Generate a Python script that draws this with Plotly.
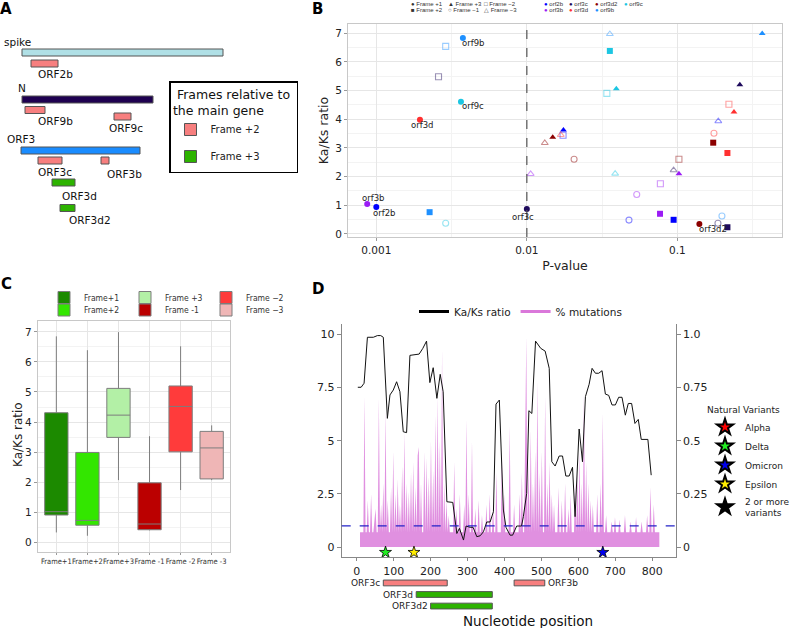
import numpy as np
import plotly.graph_objects as go

W, H = 798, 628
FONT = "DejaVu Sans"
ARIAL = "Liberation Sans"
NARROW = "DejaVu Sans Condensed, Liberation Sans"

# ---------------- A: main genes and overlapping ORFs ----------------
main_genes = ["spike", "N", "ORF3"]
main_start = [22, 22, 21]
main_end = [223, 153, 140]
main_row = [52.5, 99.5, 150.5]
main_colors = ["#b0e0e6", "#1e0050", "#1a8cff"]
main_label_x = [2, 16, 5]
main_label_y = [41.5, 87.5, 138.5]

orf_names = ["ORF2b", "ORF9b", "ORF9c", "ORF3c", "ORF3b", "ORF3d", "ORF3d2"]
orf_start = [31, 25, 114, 38, 101, 52, 60]
orf_end = [58, 45, 131, 62, 109, 75, 75]
orf_row = [63.5, 110, 116.5, 160.5, 160.5, 182.5, 208]
orf_frame = ["Frame +2", "Frame +2", "Frame +2", "Frame +2", "Frame +2", "Frame +3", "Frame +3"]
orf_label_x = [36, 36, 107, 36, 105, 60, 67]
orf_label_y = [74, 120.5, 128, 172, 174, 196, 220]
frame_colors_a = {"Frame +2": "#f77f7f", "Frame +3": "#2db300"}

# ---------------- B: Ka/Ks vs p-value per gene and frame ----------------
genes = ["orf2b", "orf3b", "orf3c", "orf3d", "orf3d2", "orf9b", "orf9c"]
gene_colors = ["#0000ff", "#9b1cf5", "#1e0a5c", "#ff3030", "#8b0000", "#1e90ff", "#1cc6e2"]
frames = ["Frame +1", "Frame +2", "Frame +3", "Frame \u22121", "Frame \u22122", "Frame \u22123"]
frame_symbols = ["circle", "square", "triangle-up", "circle-open", "square-open", "triangle-up-open"]
frame_keys = ["\u25cf", "\u25a0", "\u25b2", "\u25cb", "\u25a1", "\u25b3"]
# values in frame order +1, +2, +3, -1, -2, -3
pval = {
    "orf2b": [0.00100, 0.0944, 0.0175, 0.0477, 0.0174, 0.187],
    "orf3b": [0.00087, 0.0767, 0.1024, 0.0537, 0.0771, 0.0106],
    "orf3c": [0.0100, 0.215, 0.260, 0.186, 0.00259, 0.0944],
    "orf3d": [0.00195, 0.215, 0.2377, 0.175, 0.220, 0.0168],
    "orf3d2": [0.140, 0.173, 0.01486, 0.0206, 0.1024, 0.01316],
    "orf9b": [0.00376, 0.00226, 0.366, 0.1977, 0.00289, 0.0356],
    "orf9c": [0.00365, 0.0356, 0.0393, 0.00289, 0.0340, 0.0386],
}
kaks = {
    "orf2b": [0.94, 0.49, 3.62, 0.48, 3.44, 3.93],
    "orf3b": [1.045, 0.70, 2.10, 1.37, 1.75, 2.09],
    "orf3c": [0.87, 0.23, 5.20, 0.37, 5.48, 2.22],
    "orf3d": [3.98, 2.82, 4.25, 3.51, 4.52, 3.45],
    "orf3d2": [0.34, 3.18, 3.37, 2.60, 2.60, 3.17],
    "orf9b": [6.83, 0.756, 6.99, 0.62, 6.54, 6.97],
    "orf9c": [4.61, 6.38, 5.06, 0.37, 4.90, 2.10],
}
p_threshold = 0.01
b_label_shift = {"orf2b": (8, -6), "orf3b": (6, 6), "orf3c": (-4, -8), "orf3d": (3, -5),
                 "orf3d2": (14, -5), "orf9b": (11, -5), "orf9c": (12, -4)}

# ---------------- C: Ka/Ks distribution per frame ----------------
c_frames = ["Frame+1", "Frame+2", "Frame+3", "Frame -1", "Frame -2", "Frame -3"]
c_legend_names = ["Frame+1", "Frame+2", "Frame +3", "Frame -1", "Frame \u22122", "Frame \u22123"]
c_colors = ["#1c8a00", "#33e600", "#b3f0a6", "#bb0000", "#ff3b3b", "#efb6b6"]
c_q1 = [0.91, 0.57, 3.49, 0.42, 3.01, 2.11]
c_med = [1.02, 0.73, 4.23, 0.61, 4.52, 3.14]
c_q3 = [4.31, 2.99, 5.12, 1.98, 5.20, 3.69]
c_lo = [0.33, 0.22, 2.07, 0.40, 1.74, 2.07]
c_hi = [6.85, 6.39, 6.99, 3.53, 6.52, 3.89]

# ---------------- D: sliding Ka/Ks and mutations along ORF3 ----------------
kaks_nt = [3, 12, 20, 29, 45, 56, 65, 72, 83, 90, 99, 108, 117, 126, 135, 144, 169, 179, 189, 198,
           207, 217, 226, 234, 244, 260, 271, 278, 289, 296, 307, 315, 325, 334, 343, 352, 361, 370, 377, 386,
           397, 404, 415, 422, 433, 446, 451, 460, 466, 474, 484, 498, 510, 521, 528, 537, 548, 557, 566, 575,
           584, 591, 602, 611, 619, 629, 637, 646, 655, 664, 673, 682, 691, 700, 709, 718, 727, 735, 744, 753,
           762, 770, 788, 797]
kaks_val = [7.51, 7.51, 7.7, 9.86, 9.86, 9.94, 9.94, 9.86, 6.05, 7.15, 7.38, 7.77, 7.3, 5.42, 5.38, 9.01, 9.07, 9.34, 9.68, 7.73,
            8.43, 6.99, 8.12, 7.3, 2.13, 2.1, 0.64, 0.88, 0.33, 0.99, 0.93, 0.93, 0.49, 0.53, 0.72, 1.18, 1.18, 1.66, 6.72, 6.91,
            1.74, 0.93, 0.56, 0.56, 0.99, 0.99, 1.43, 2.52, 6.41, 6.28, 9.68, 9.34, 9.21, 8.4, 4.01, 3.81, 4.28, 4.28, 3.34, 3.34,
            3.75, 1.43, 5.55, 4.01, 7.07, 7.65, 8.4, 8.17, 8.17, 8.29, 7.19, 7.13, 6.68, 6.68, 7.04, 7.04, 6.2, 6.75, 6.75, 5.81,
            6.0, 5.06, 5.06, 3.38]

mut_first, mut_last, mut_step = 9, 821, 3
mut_baseline = 0.07
spike_nt = [22, 30, 40, 47, 52, 59, 66, 72, 78, 85, 92, 98, 104, 110, 116, 122, 129, 135, 141, 147,
            153, 160, 164, 169, 175, 182, 188, 194, 200, 206, 212, 219, 225, 230, 236, 242,
            250, 263, 270, 280, 290, 296, 302, 312, 320, 330, 340, 350, 360, 368,
            378, 392, 400, 415, 425, 440, 448,
            455, 460, 466, 472, 478, 484, 490, 496, 502, 509, 515, 521, 528, 535, 545, 555, 565, 572, 580, 590,
            598, 604, 610, 615, 620, 626, 632, 640, 650, 660, 667,
            675, 690, 700, 712, 725, 740, 755, 770, 786, 796, 805]
spike_pct = [0.71, 0.22, 0.25, 0.15, 0.18, 0.70, 0.20, 0.30, 0.64, 0.22, 0.28, 0.45, 0.25, 0.32, 0.20, 0.38, 0.54, 0.30, 0.26, 0.35,
             0.40, 0.28, 0.43, 0.47, 0.30, 0.45, 0.42, 0.33, 0.50, 0.36, 0.62, 0.71, 0.50, 0.93, 0.30, 0.22,
             0.15, 0.40, 0.18, 0.25, 0.20, 0.60, 0.25, 0.50, 0.18, 0.22, 0.15, 0.20, 0.25, 0.18,
             0.35, 0.45, 0.25, 0.57, 0.20, 0.25, 0.35,
             0.50, 0.99, 0.40, 0.55, 0.30, 0.45, 0.78, 0.35, 0.45, 0.71, 0.30, 0.40, 0.25, 0.20, 0.28, 0.22, 0.30, 0.18, 0.25, 0.30,
             0.35, 0.45, 0.30, 0.72, 0.40, 0.30, 0.22, 0.20, 0.25, 0.30, 0.63,
             0.15, 0.12, 0.14, 0.13, 0.15, 0.12, 0.14, 0.12, 0.15, 0.28, 0.20]

mut_nt = np.arange(mut_first, mut_last + 1, mut_step)
mut_pct = np.full(mut_nt.shape, mut_baseline)
for p, v in zip(spike_nt, spike_pct):
    mut_pct[np.abs(mut_nt - p).argmin()] = v

variants = ["Alpha", "Delta", "Omicron", "Epsilon", "2 or more<br>variants"]
variant_colors = ["#ff0000", "#22ee22", "#0000ee", "#ffee00", "#000000"]
variant_nt = {"Delta": [78], "Omicron": [666], "Epsilon": [155]}
variant_y = -0.25
kaks_threshold = 1

d_orfs = ["ORF3c", "ORF3b", "ORF3d", "ORF3d2"]
d_start = [72, 426, 161, 200]
d_end = [245, 509, 367, 367]
d_row = [1, 1, 2, 3]
d_frame = ["Frame +2", "Frame +2", "Frame +3", "Frame +3"]
d_label_side = ["left", "right", "left", "left"]

fig = go.Figure()

# ---- A ----
fig.add_trace(go.Bar(
    orientation="h", y=main_row, base=main_start,
    x=[e - s for s, e in zip(main_start, main_end)], width=7,
    marker=dict(color=main_colors, line=dict(color="#555555", width=1)),
    showlegend=False, hoverinfo="skip", xaxis="x", yaxis="y"))
for fr in ["Frame +2", "Frame +3"]:
    idx = [i for i, f in enumerate(orf_frame) if f == fr]
    fig.add_trace(go.Bar(
        orientation="h", y=[orf_row[i] for i in idx], base=[orf_start[i] for i in idx],
        x=[orf_end[i] - orf_start[i] for i in idx], width=7, name=fr, legendgroup=fr,
        marker=dict(color=frame_colors_a[fr], line=dict(color="#555555", width=1)),
        legend="legend", hoverinfo="skip", xaxis="x", yaxis="y"))

annotations = []
for g, lx, ly in zip(main_genes, main_label_x, main_label_y):
    annotations.append(dict(x=lx, y=ly, xref="x", yref="y", text=g, showarrow=False,
                            xanchor="left", yanchor="middle", font=dict(size=10.5, family=FONT, color="#111")))
for g, lx, ly in zip(orf_names, orf_label_x, orf_label_y):
    annotations.append(dict(x=lx, y=ly, xref="x", yref="y", text=g, showarrow=False,
                            xanchor="left", yanchor="middle", font=dict(size=10.5, family=FONT, color="#111")))

# ---- B ----
for g, col in zip(genes, gene_colors):
    rgb = tuple(int(col[i:i + 2], 16) for i in (1, 3, 5))
    light = "rgba(%d,%d,%d,0.45)" % rgb
    cols = [col if "open" not in s else light for s in frame_symbols]
    fig.add_trace(go.Scatter(
        x=pval[g], y=kaks[g], mode="markers", showlegend=False, hoverinfo="skip",
        marker=dict(symbol=frame_symbols, size=6, color=cols,
                    line=dict(color=cols, width=[0 if "open" not in s else 1.1 for s in frame_symbols])),
        xaxis="x2", yaxis="y2"))
    dx, dy = b_label_shift[g]
    annotations.append(dict(x=np.log10(pval[g][0]), y=kaks[g][0], xref="x2", yref="y2", text=g,
                            showarrow=False, xshift=dx, yshift=dy, xanchor="center", yanchor="middle",
                            font=dict(size=8.5, family=FONT, color="#222")))

# B legends (two small key blocks above the panel)
shape_cols_x = [409, 445.7, 482]
gene_cols_x = [541.5, 567, 593, 622]
rows_y = [4.3, 10.3]
for i, (fr, key) in enumerate(zip(frames, frame_keys)):
    annotations.append(dict(x=shape_cols_x[i // 2] / W, y=1 - rows_y[i % 2] / H, xref="paper", yref="paper",
                            text="%s %s" % (key, fr), showarrow=False, xanchor="left", yanchor="middle",
                            font=dict(size=6, family=ARIAL, color="#333")))
for i, (g, col) in enumerate(zip(genes, gene_colors)):
    annotations.append(dict(x=gene_cols_x[i // 2] / W, y=1 - rows_y[i % 2] / H, xref="paper", yref="paper",
                            text="<span style='color:%s'>\u25cf</span> %s" % (col, g), showarrow=False,
                            xanchor="left", yanchor="middle", font=dict(size=6, family=ARIAL, color="#333")))

# ---- C ----
for i, cat in enumerate(c_frames):
    fig.add_trace(go.Box(
        x=[cat], q1=[c_q1[i]], median=[c_med[i]], q3=[c_q3[i]],
        lowerfence=[c_lo[i]], upperfence=[c_hi[i]], boxpoints=False, width=0.75, whiskerwidth=0,
        fillcolor=c_colors[i], line=dict(color="#7d7d7d", width=1), name=c_legend_names[i],
        legend="legend2" if i % 2 == 0 else "legend3", hoverinfo="skip", xaxis="x3", yaxis="y3"))
annotations.append(dict(x=18 / W, y=1 - 435 / H, xref="paper", yref="paper", text="Ka/Ks ratio",
                        textangle=-90, showarrow=False, xanchor="center", yanchor="middle",
                        font=dict(size=12, family=FONT, color="#222")))

# ---- D ----
fig.add_trace(go.Scatter(
    x=mut_nt, y=mut_pct, mode="lines", fill="tozeroy", fillcolor="rgba(218,125,218,0.85)",
    line=dict(width=0, color="rgba(218,125,218,0.85)"), showlegend=False, hoverinfo="skip",
    xaxis="x4", yaxis="y4"))
fig.add_trace(go.Scatter(
    x=kaks_nt, y=kaks_val, mode="lines", line=dict(color="#111111", width=1),
    showlegend=False, hoverinfo="skip", xaxis="x4", yaxis="y5"))
fig.add_trace(go.Scatter(x=[None], y=[None], mode="lines", name="Ka/Ks ratio",
                         line=dict(color="black", width=3), legend="legend4", xaxis="x4", yaxis="y5"))
fig.add_trace(go.Scatter(x=[None], y=[None], mode="lines", name="% mutations",
                         line=dict(color="#da78da", width=3), legend="legend4", xaxis="x4", yaxis="y5"))
for v, col in zip(variants, variant_colors):
    xs = variant_nt.get(v, [None])
    fig.add_trace(go.Scatter(
        x=xs, y=[variant_y if x is not None else None for x in xs], mode="markers", name=v,
        marker=dict(symbol="star", size=9, color=col, line=dict(color="black", width=0.8)),
        legend="legend5", hoverinfo="skip", xaxis="x4", yaxis="y5"))

for fr in ["Frame +2", "Frame +3"]:
    idx = [i for i, f in enumerate(d_frame) if f == fr]
    fig.add_trace(go.Bar(
        orientation="h", y=[d_row[i] for i in idx], base=[d_start[i] for i in idx],
        x=[d_end[i] - d_start[i] for i in idx], width=0.5, showlegend=False,
        marker=dict(color=frame_colors_a[fr], line=dict(color="#555555", width=1)),
        hoverinfo="skip", xaxis="x4", yaxis="y6"))
for name, s, e, r, side in zip(d_orfs, d_start, d_end, d_row, d_label_side):
    annotations.append(dict(x=s if side == "left" else e, y=r, xref="x4", yref="y6", text=name,
                            showarrow=False, xanchor="right" if side == "left" else "left",
                            xshift=-1 if side == "left" else 1, yanchor="middle",
                            font=dict(size=9, family=FONT, color="#222")))
annotations.append(dict(x=528 / W, y=1 - 621 / H, xref="paper", yref="paper", text="Nucleotide position",
                        showarrow=False, xanchor="center", yanchor="middle",
                        font=dict(size=13.5, family=FONT, color="#111")))

# panel letters
for lab, lx, ly in [("A", 6, 9.5), ("B", 317.5, 9.5), ("C", 6, 284), ("D", 318, 289)]:
    annotations.append(dict(x=lx / W, y=1 - ly / H, xref="paper", yref="paper", text="<b>%s</b>" % lab,
                            showarrow=False, xanchor="center", yanchor="middle",
                            font=dict(size=15, family=FONT, color="black")))

shapes = [
    dict(type="line", xref="x2", yref="y2 domain", x0=p_threshold, x1=p_threshold, y0=0, y1=1,
         line=dict(color="#555555", width=1.2, dash="dash")),
    dict(type="line", xref="x4 domain", yref="y5", x0=0, x1=1, y0=kaks_threshold, y1=kaks_threshold,
         line=dict(color="#2323c8", width=1.2, dash="dash")),
]

grid_major = "#e6e6e6"
grid_minor = "#f3f3f3"
border = "#c8c8c8"
tickfont = dict(size=10.5, family=FONT, color="#222")
dfont = dict(size=11, family=FONT, color="#222")

fig.update_layout(
    width=W, height=H, margin=dict(l=0, r=0, t=0, b=0, autoexpand=False),
    paper_bgcolor="white", plot_bgcolor="white",
    font=dict(family=FONT, color="#222"),
    barmode="overlay", boxmode="overlay",
    annotations=annotations, shapes=shapes,
    # A
    xaxis=dict(domain=[0, 300 / W], range=[0, 300], visible=False, fixedrange=True, automargin=False),
    yaxis=dict(domain=[1 - 232 / H, 1], range=[232, 0], visible=False, fixedrange=True, automargin=False),
    # B
    xaxis2=dict(domain=[348 / W, 782 / W], anchor="y2", type="log", range=[-3.188, -0.305],
                tickvals=[0.001, 0.01, 0.1], ticktext=["0.001", "0.01", "0.1"], tickfont=tickfont,
                showgrid=True, gridcolor=grid_major, zeroline=False, automargin=False,
                minor=dict(tickvals=[10 ** -2.5, 10 ** -1.5, 10 ** -0.5], showgrid=True, gridcolor=grid_minor),
                showline=True, mirror=True, linecolor=border, ticks="outside", ticklen=3, tickcolor="#999",
                title=dict(text="P-value", font=dict(size=12.5, family=FONT), standoff=6)),
    yaxis2=dict(domain=[1 - 237 / H, 1 - 24 / H], anchor="x2", range=[-0.11, 7.32], dtick=1,
                tickfont=tickfont, showgrid=True, gridcolor=grid_major, zeroline=False, automargin=False,
                minor=dict(dtick=0.5, showgrid=True, gridcolor=grid_minor),
                showline=True, mirror=True, linecolor=border, ticks="outside", ticklen=3, tickcolor="#999",
                title=dict(text="Ka/Ks ratio", font=dict(size=12.5, family=FONT), standoff=3)),
    # C
    xaxis3=dict(domain=[37.7 / W, 230.3 / W], anchor="y3", type="category", categoryorder="array",
                categoryarray=c_frames, range=[-0.6, 5.6], tickangle=0, automargin=False,
                tickfont=dict(size=7.5, family=NARROW, color="#333"),
                showgrid=True, gridcolor=grid_major, showline=True, mirror=True, linecolor=border,
                ticks="outside", ticklen=2, tickcolor="#999"),
    yaxis3=dict(domain=[1 - 552 / H, 1 - 320.7 / H], anchor="x3", range=[-0.32, 7.37], dtick=1,
                tickfont=tickfont, showgrid=True, gridcolor=grid_major, zeroline=False, automargin=False,
                minor=dict(dtick=0.5, showgrid=True, gridcolor=grid_minor),
                showline=True, mirror=True, linecolor=border, ticks="outside", ticklen=3, tickcolor="#999"),
    # D
    xaxis4=dict(domain=[341.7 / W, 675.7 / W], anchor="y4", range=[-40.6, 863.3], automargin=False,
                tickvals=list(range(0, 801, 100)), tickfont=dfont,
                showgrid=False, zeroline=False, showline=True, linecolor="#888888",
                ticks="outside", ticklen=3, tickcolor="#888888"),
    yaxis4=dict(domain=[1 - 557.3 / H, 1 - 324.3 / H], anchor="x4", side="right", range=[-0.048, 1.047],
                tickvals=[0, 0.25, 0.5, 0.75, 1], ticktext=["0", "0.25", "0.5", "0.75", "1.0"],
                tickfont=dfont, showgrid=False, zeroline=False,
                showline=True, linecolor="#888888", ticks="outside", ticklen=4, tickcolor="#888888",
                automargin=False),
    yaxis5=dict(overlaying="y4", anchor="x4", side="left", range=[-0.48, 10.47],
                tickvals=[0, 2.5, 5, 7.5, 10], ticktext=["0", "2.5", "5", "7.5", "10"],
                tickfont=dfont, showgrid=False, zeroline=False,
                showline=True, linecolor="#888888", ticks="outside", ticklen=4, tickcolor="#888888",
                automargin=False),
    yaxis6=dict(domain=[1 - 613 / H, 1 - 576 / H], anchor="x4", range=[3.6, 0.4], visible=False,
                automargin=False),
    # legends
    legend=dict(x=169 / W, y=1 - 81 / H, xanchor="left", yanchor="top", bgcolor="white",
                bordercolor="black", borderwidth=1.5, font=dict(size=10, family=FONT, color="#222"),
                title=dict(text="&nbsp;Frames relative to&nbsp;<br>the main gene", side="top center",
                           font=dict(size=12.5, family=FONT, color="#111")),
                tracegroupgap=8, itemclick=False, itemdoubleclick=False),
    legend2=dict(orientation="h", x=44 / W, y=1 - 283 / H, xanchor="left", yanchor="top",
                 bgcolor="rgba(0,0,0,0)", font=dict(size=8.5, family=NARROW, color="#333"),
                 entrywidth=36, entrywidthmode="pixels", itemclick=False, itemdoubleclick=False),
    legend3=dict(orientation="h", x=44 / W, y=1 - 295.5 / H, xanchor="left", yanchor="top",
                 bgcolor="rgba(0,0,0,0)", font=dict(size=8.5, family=NARROW, color="#333"),
                 entrywidth=36, entrywidthmode="pixels", itemclick=False, itemdoubleclick=False),
    legend4=dict(orientation="h", x=414 / W, y=1 - 297 / H, xanchor="left", yanchor="top",
                 bgcolor="rgba(0,0,0,0)", font=dict(size=10.5, family=FONT, color="#222"),
                 itemclick=False, itemdoubleclick=False),
    legend5=dict(x=705 / W, y=1 - 401 / H, xanchor="left", yanchor="top", bgcolor="rgba(0,0,0,0)",
                 title=dict(text="Natural Variants", font=dict(size=9, family=FONT, color="#222")),
                 font=dict(size=9, family=FONT, color="#222"), itemsizing="constant",
                 itemclick=False, itemdoubleclick=False),
)

# page body margin would offset the 798x628 figure inside the window
fig.write_html("out.html", config={"displayModeBar": False},
               post_script="document.body.style.margin='0px';")
